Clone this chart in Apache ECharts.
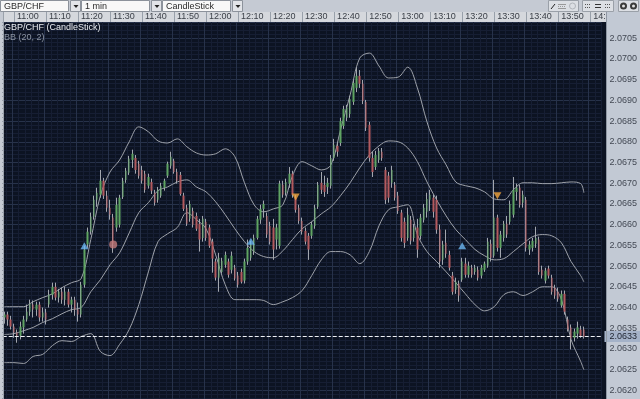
<!DOCTYPE html>
<html><head><meta charset="utf-8">
<script src="https://cdn.jsdelivr.net/npm/echarts@6/dist/echarts.min.js"></script>
<style>html,body{margin:0;padding:0;background:#c5cad3;}#chart{width:640px;height:399px;}</style>
</head><body><div id="chart"></div>
<script>
// ---------- data ----------
const symbolName = 'GBP/CHF';
const intervalName = '1 min';
const chartTypeName = 'CandleStick';
const indicatorName = 'BB (20, 2)';
const lastPrice = 2.0633;
const priceStep = 0.0005;          // label step of the price axis
const priceMin = 2.0617925;        // bottom edge of the plot
const priceMax = 2.07089;          // top edge of the plot

// one-minute categories from 10:57 (candles fill the first 182)
const firstMinute = 10 * 60 + 57;
const categoryCount = 187;
const categories = [];
for (let k = 0; k < categoryCount; k++) {
  const m = firstMinute + k;
  categories.push(String(Math.floor(m / 60)).padStart(2, '0') + ':' + String(m % 60).padStart(2, '0'));
}

const opens = [
2.06376,2.06383,2.06371,2.06354,2.06340,2.06332,2.06352,2.06371,2.06390,2.06407,
2.06395,2.06407,2.06376,2.06388,2.06407,2.06431,2.06450,2.06424,2.06438,2.06419,
2.06438,2.06407,2.06419,2.06395,2.06383,2.06455,2.06552,2.06583,2.06619,2.06660,
2.06672,2.06706,2.06670,2.06641,2.06617,2.06593,2.06600,2.06667,2.06708,2.06725,
2.06756,2.06761,2.06747,2.06732,2.06723,2.06694,2.06703,2.06677,2.06660,2.06670,
2.06689,2.06718,2.06742,2.06754,2.06727,2.06720,2.06670,2.06641,2.06614,2.06633,
2.06621,2.06602,2.06568,2.06607,2.06593,2.06559,2.06511,2.06472,2.06486,2.06503,
2.06511,2.06491,2.06496,2.06477,2.06486,2.06465,2.06511,2.06520,2.06535,2.06568,
2.06612,2.06638,2.06621,2.06597,2.06593,2.06564,2.06549,2.06696,2.06677,2.06699,
2.06723,2.06665,2.06641,2.06609,2.06585,2.06573,2.06573,2.06597,2.06643,2.06701,
2.06696,2.06691,2.06694,2.06761,2.06790,2.06797,2.06838,2.06858,2.06867,2.06896,
2.06930,2.06959,2.06940,2.06896,2.06841,2.06761,2.06739,2.06756,2.06776,2.06732,
2.06718,2.06701,2.06696,2.06670,2.06629,2.06607,2.06568,2.06612,2.06568,2.06593,
2.06573,2.06612,2.06631,2.06660,2.06665,2.06660,2.06588,2.06515,2.06556,2.06527,
2.06477,2.06443,2.06458,2.06467,2.06506,2.06479,2.06496,2.06486,2.06491,2.06477,
2.06491,2.06501,2.06554,2.06525,2.06617,2.06544,2.06568,2.06602,2.06607,2.06624,
2.06679,2.06689,2.06653,2.06660,2.06540,2.06544,2.06554,2.06564,2.06491,2.06465,
2.06494,2.06472,2.06448,2.06438,2.06405,2.06433,2.06371,2.06352,2.06327,2.06337,
2.06347,2.06347];
const closes = [
2.06383,2.06371,2.06354,2.06340,2.06332,2.06354,2.06371,2.06390,2.06409,2.06395,
2.06407,2.06376,2.06388,2.06371,2.06431,2.06450,2.06424,2.06438,2.06419,2.06438,
2.06407,2.06419,2.06395,2.06383,2.06455,2.06540,2.06583,2.06619,2.06660,2.06677,
2.06706,2.06670,2.06641,2.06624,2.06554,2.06648,2.06665,2.06706,2.06730,2.06759,
2.06771,2.06732,2.06718,2.06706,2.06684,2.06715,2.06682,2.06653,2.06684,2.06694,
2.06706,2.06747,2.06764,2.06727,2.06706,2.06674,2.06638,2.06602,2.06650,2.06600,
2.06590,2.06564,2.06614,2.06568,2.06549,2.06518,2.06472,2.06520,2.06513,2.06527,
2.06479,2.06525,2.06470,2.06455,2.06462,2.06511,2.06544,2.06554,2.06568,2.06614,
2.06638,2.06650,2.06576,2.06559,2.06540,2.06593,2.06699,2.06672,2.06703,2.06723,
2.06672,2.06636,2.06609,2.06583,2.06559,2.06540,2.06600,2.06641,2.06696,2.06684,
2.06679,2.06701,2.06761,2.06793,2.06776,2.06850,2.06879,2.06882,2.06903,2.06942,
2.06959,2.06940,2.06899,2.06834,2.06761,2.06727,2.06768,2.06778,2.06761,2.06660,
2.06665,2.06732,2.06665,2.06633,2.06568,2.06556,2.06624,2.06561,2.06593,2.06540,
2.06617,2.06641,2.06662,2.06672,2.06631,2.06588,2.06511,2.06552,2.06530,2.06496,
2.06438,2.06462,2.06429,2.06511,2.06479,2.06501,2.06479,2.06496,2.06472,2.06496,
2.06506,2.06559,2.06520,2.06617,2.06544,2.06576,2.06602,2.06576,2.06650,2.06684,
2.06689,2.06648,2.06672,2.06544,2.06552,2.06561,2.06568,2.06486,2.06477,2.06489,
2.06477,2.06438,2.06429,2.06421,2.06433,2.06390,2.06347,2.06325,2.06342,2.06352,
2.06332,2.06330];
const lows = [
2.06361,2.06356,2.06347,2.06327,2.06315,2.06323,2.06337,2.06366,2.06380,2.06376,
2.06380,2.06366,2.06366,2.06359,2.06400,2.06419,2.06417,2.06412,2.06409,2.06405,
2.06400,2.06388,2.06380,2.06366,2.06376,2.06448,2.06544,2.06576,2.06612,2.06643,
2.06665,2.06662,2.06631,2.06612,2.06532,2.06583,2.06593,2.06662,2.06701,2.06720,
2.06737,2.06723,2.06711,2.06699,2.06677,2.06687,2.06674,2.06646,2.06653,2.06665,
2.06682,2.06713,2.06735,2.06723,2.06699,2.06670,2.06633,2.06597,2.06607,2.06593,
2.06585,2.06535,2.06559,2.06561,2.06544,2.06484,2.06465,2.06438,2.06482,2.06496,
2.06472,2.06482,2.06465,2.06448,2.06458,2.06458,2.06503,2.06513,2.06527,2.06564,
2.06602,2.06617,2.06568,2.06552,2.06515,2.06540,2.06542,2.06665,2.06670,2.06689,
2.06665,2.06629,2.06602,2.06576,2.06552,2.06515,2.06566,2.06590,2.06638,2.06674,
2.06667,2.06674,2.06687,2.06754,2.06764,2.06790,2.06831,2.06850,2.06858,2.06889,
2.06920,2.06930,2.06891,2.06826,2.06752,2.06715,2.06732,2.06749,2.06754,2.06650,
2.06653,2.06689,2.06658,2.06626,2.06559,2.06544,2.06561,2.06552,2.06559,2.06520,
2.06564,2.06605,2.06617,2.06633,2.06617,2.06578,2.06496,2.06503,2.06520,2.06489,
2.06431,2.06433,2.06414,2.06462,2.06472,2.06472,2.06472,2.06479,2.06465,2.06470,
2.06486,2.06496,2.06511,2.06520,2.06535,2.06520,2.06559,2.06568,2.06600,2.06617,
2.06658,2.06641,2.06641,2.06535,2.06527,2.06535,2.06544,2.06479,2.06470,2.06458,
2.06470,2.06431,2.06421,2.06414,2.06400,2.06383,2.06342,2.06299,2.06318,2.06325,
2.06327,2.06325];
const highs = [
2.06390,2.06390,2.06380,2.06361,2.06347,2.06366,2.06380,2.06407,2.06419,2.06417,
2.06414,2.06414,2.06400,2.06397,2.06443,2.06460,2.06460,2.06445,2.06448,2.06450,
2.06445,2.06426,2.06426,2.06412,2.06462,2.06549,2.06593,2.06629,2.06670,2.06689,
2.06732,2.06713,2.06682,2.06660,2.06626,2.06665,2.06672,2.06713,2.06737,2.06766,
2.06781,2.06768,2.06754,2.06742,2.06730,2.06723,2.06711,2.06684,2.06691,2.06701,
2.06711,2.06752,2.06776,2.06759,2.06735,2.06727,2.06677,2.06648,2.06658,2.06641,
2.06629,2.06614,2.06621,2.06614,2.06600,2.06566,2.06518,2.06532,2.06520,2.06535,
2.06518,2.06535,2.06503,2.06486,2.06494,2.06518,2.06564,2.06561,2.06576,2.06621,
2.06648,2.06658,2.06629,2.06607,2.06614,2.06602,2.06706,2.06706,2.06711,2.06739,
2.06730,2.06672,2.06648,2.06617,2.06593,2.06580,2.06607,2.06648,2.06703,2.06727,
2.06718,2.06713,2.06768,2.06807,2.06800,2.06858,2.06887,2.06889,2.06911,2.06949,
2.06980,2.06973,2.06949,2.06901,2.06848,2.06776,2.06778,2.06785,2.06785,2.06739,
2.06727,2.06742,2.06703,2.06679,2.06636,2.06617,2.06641,2.06621,2.06602,2.06614,
2.06626,2.06650,2.06677,2.06684,2.06672,2.06670,2.06600,2.06561,2.06588,2.06537,
2.06486,2.06472,2.06465,2.06520,2.06520,2.06511,2.06503,2.06503,2.06499,2.06503,
2.06511,2.06568,2.06564,2.06708,2.06624,2.06585,2.06609,2.06621,2.06658,2.06715,
2.06699,2.06696,2.06682,2.06667,2.06561,2.06568,2.06595,2.06571,2.06501,2.06496,
2.06501,2.06479,2.06455,2.06448,2.06441,2.06441,2.06378,2.06359,2.06349,2.06366,
2.06356,2.06354];

// Bollinger band readings
const bandTimes = ['10:57','11:00','11:03','11:06','11:09','11:12','11:15','11:18','11:21','11:24',
'11:27','11:30','11:33','11:36','11:39','11:42','11:45','11:48','11:51','11:54',
'11:57','12:00','12:03','12:06','12:09','12:12','12:15','12:18','12:21','12:24',
'12:27','12:30','12:33','12:36','12:39','12:42','12:45','12:48','12:51','12:54',
'12:57','13:00','13:03','13:06','13:09','13:12','13:15','13:18','13:21','13:24',
'13:27','13:30','13:33','13:36','13:39','13:42','13:45','13:48','13:51','13:54',
'13:57','13:58'];
const bbUpper = [2.06402,2.06402,2.06402,2.06414,2.06424,2.06433,2.06448,2.06460,2.06470,2.06564,
2.06670,2.06727,2.06756,2.06800,2.06836,2.06824,2.06802,2.06797,2.06807,2.06788,
2.06773,2.06768,2.06771,2.06783,2.06764,2.06701,2.06648,2.06631,2.06638,2.06648,
2.06718,2.06752,2.06742,2.06732,2.06744,2.06829,2.06913,2.07002,2.07014,2.06983,
2.06954,2.06956,2.06980,2.06930,2.06848,2.06785,2.06744,2.06703,2.06694,2.06689,
2.06679,2.06662,2.06660,2.06684,2.06701,2.06701,2.06699,2.06699,2.06701,2.06703,
2.06699,2.06677];
const bbMiddle = [2.06335,2.06337,2.06344,2.06352,2.06364,2.06373,2.06385,2.06395,2.06400,2.06438,
2.06467,2.06503,2.06532,2.06580,2.06629,2.06653,2.06682,2.06691,2.06703,2.06708,
2.06691,2.06679,2.06655,2.06624,2.06590,2.06559,2.06535,2.06523,2.06520,2.06537,
2.06564,2.06590,2.06607,2.06626,2.06643,2.06670,2.06701,2.06737,2.06768,2.06790,
2.06802,2.06800,2.06785,2.06752,2.06703,2.06660,2.06621,2.06588,2.06564,2.06540,
2.06525,2.06515,2.06518,2.06535,2.06554,2.06571,2.06576,2.06573,2.06556,2.06511,
2.06477,2.06462];
const bbLower = [2.06267,2.06267,2.06265,2.06282,2.06287,2.06308,2.06320,2.06318,2.06330,2.06337,
2.06294,2.06284,2.06311,2.06347,2.06407,2.06486,2.06559,2.06578,2.06593,2.06629,
2.06612,2.06590,2.06527,2.06455,2.06419,2.06419,2.06419,2.06417,2.06407,2.06414,
2.06424,2.06441,2.06477,2.06515,2.06535,2.06535,2.06527,2.06506,2.06535,2.06597,
2.06636,2.06643,2.06648,2.06576,2.06535,2.06511,2.06486,2.06460,2.06433,2.06407,
2.06392,2.06402,2.06431,2.06438,2.06429,2.06438,2.06450,2.06450,2.06419,2.06323,
2.06270,2.06250];

// signal markers
const buyTimes = ['11:22','12:14','13:20'];
const buyPrices = [2.06549, 2.06560, 2.06549];
const sellTimes = ['12:28','13:31'];
const sellPrices = [2.06667, 2.06670];
const exitTimes = ['11:31'];
const exitPrices = [2.06552];

// ---------- chart ----------
const chart = echarts.init(document.getElementById('chart'), null, {renderer: 'canvas', width: 640, height: 399});
const isMajor = i => categories[i].endsWith('0');
const ci = t => categories.indexOf(t);
const wickData = opens.map((o, i) => [o, closes[i], lows[i], highs[i]]);
const bodyData = opens.map((o, i) => [o, closes[i], Math.min(o, closes[i]), Math.max(o, closes[i])]);
const pairs = (times, vals) => times.map((t, k) => [ci(t), vals[k]]);
const FONT = '"Liberation Sans", Arial, sans-serif';

function dropdown(x, w, label) {
  return [
    {type: 'rect', shape: {x: x + 0.5, y: 0.5, width: w, height: 11}, style: {fill: '#f8f8f8', stroke: '#8c929b', lineWidth: 1}, z: 5},
    {type: 'text', x: x + 4, y: 6.5, style: {text: label, fill: '#2a2a2a', font: '9px ' + FONT, textVerticalAlign: 'middle'}, z: 6},
    {type: 'rect', shape: {x: x + w + 2.5, y: 0.5, width: 10, height: 11}, style: {fill: '#e2e4e8', stroke: '#8c929b', lineWidth: 1}, z: 5},
    {type: 'polygon', shape: {points: [[x + w + 5.5, 5], [x + w + 10.5, 5], [x + w + 8, 8]]}, style: {fill: '#222'}, z: 6}
  ];
}

const graphics = [
  {type: 'rect', shape: {x: 3, y: 12, width: 604, height: 10}, style: {fill: '#d5d8dd'}, z: -10},
  {type: 'rect', shape: {x: 3, y: 22, width: 604, height: 377}, style: {fill: '#0c1322'}, z: -10},
  {type: 'rect', shape: {x: 607, y: 12, width: 33, height: 387}, style: {fill: '#c2c9d4'}, z: -10},
  {type: 'rect', shape: {x: 607, y: 12, width: 33, height: 10}, style: {fill: '#c2c9d4'}, z: 50},
  {type: 'line', shape: {x1: 3.5, y1: 12, x2: 3.5, y2: 399}, style: {stroke: '#9aa1ab', lineWidth: 1}, z: 50},
  {type: 'line', shape: {x1: 606.5, y1: 12, x2: 606.5, y2: 399}, style: {stroke: '#8f97a3', lineWidth: 1}, z: 50},
  {type: 'text', x: 4, y: 28, style: {text: symbolName + ' (' + chartTypeName + ')', fill: '#e9ecf1', font: '9px ' + FONT, textVerticalAlign: 'middle'}, z: 10},
  {type: 'text', x: 4, y: 38, style: {text: indicatorName, fill: '#8c94a2', font: '9px ' + FONT, textVerticalAlign: 'middle'}, z: 10},
  // toolbar icon groups (right)
  {type: 'rect', shape: {x: 548.5, y: 0.5, width: 30, height: 11}, style: {fill: '#dcdfe4', stroke: '#9aa0a8'}, z: 5},
  {type: 'line', shape: {x1: 551, y1: 9, x2: 555, y2: 4}, style: {stroke: '#222', lineWidth: 1}, z: 6},
  {type: 'line', shape: {x1: 558, y1: 4.5, x2: 566, y2: 4.5}, style: {stroke: '#999', lineWidth: 1}, z: 6},
  {type: 'line', shape: {x1: 558, y1: 6.5, x2: 566, y2: 6.5}, style: {stroke: '#999', lineWidth: 1, lineDash: [1, 1]}, z: 6},
  {type: 'line', shape: {x1: 558, y1: 8.5, x2: 566, y2: 8.5}, style: {stroke: '#999', lineWidth: 1}, z: 6},
  {type: 'circle', shape: {cx: 572.5, cy: 6, r: 3}, style: {fill: 'none', stroke: '#b0b4ba', lineWidth: 1}, z: 6},
  {type: 'rect', shape: {x: 582.5, y: 0.5, width: 31, height: 11}, style: {fill: '#dcdfe4', stroke: '#9aa0a8'}, z: 5},
  {type: 'line', shape: {x1: 585, y1: 4.5, x2: 591, y2: 4.5}, style: {stroke: '#555', lineWidth: 1, lineDash: [1, 1]}, z: 6},
  {type: 'line', shape: {x1: 585, y1: 7.5, x2: 591, y2: 7.5}, style: {stroke: '#555', lineWidth: 1, lineDash: [1, 1]}, z: 6},
  {type: 'line', shape: {x1: 595, y1: 4.5, x2: 601, y2: 4.5}, style: {stroke: '#333', lineWidth: 1}, z: 6},
  {type: 'line', shape: {x1: 595, y1: 7.5, x2: 601, y2: 7.5}, style: {stroke: '#333', lineWidth: 1}, z: 6},
  {type: 'line', shape: {x1: 605, y1: 4.5, x2: 611, y2: 4.5}, style: {stroke: '#555', lineWidth: 1, lineDash: [1, 1]}, z: 6},
  {type: 'line', shape: {x1: 605, y1: 7.5, x2: 611, y2: 7.5}, style: {stroke: '#555', lineWidth: 1, lineDash: [1, 1]}, z: 6},
  {type: 'rect', shape: {x: 618.5, y: 0.5, width: 20, height: 11}, style: {fill: '#dcdfe4', stroke: '#9aa0a8'}, z: 5},
  {type: 'circle', shape: {cx: 623.5, cy: 6, r: 3.5}, style: {fill: '#3a3a3a'}, z: 6},
  {type: 'circle', shape: {cx: 623.5, cy: 6, r: 1.5}, style: {fill: '#e0e0e0'}, z: 7},
  {type: 'circle', shape: {cx: 633.5, cy: 6, r: 3.5}, style: {fill: '#3a3a3a'}, z: 6},
  {type: 'circle', shape: {cx: 633.5, cy: 6, r: 1.5}, style: {fill: '#e0e0e0'}, z: 7}
].concat(dropdown(0, 68, symbolName), dropdown(81, 68, intervalName), dropdown(162, 68, chartTypeName));

const bandLine = (name, vals, extra) => Object.assign({
  name, type: 'line', xAxisIndex: 0, data: pairs(bandTimes, vals), symbol: 'none', smooth: 0.35,
  lineStyle: {color: '#9ea2aa', width: 1}, silent: true, z: 3
}, extra || {});

chart.setOption({
  backgroundColor: '#c5cad3',
  animation: false,
  textStyle: {fontFamily: FONT},
  graphic: graphics,
  grid: {left: 2.74, top: 22, width: 601.5, bottom: 0},
  xAxis: [{
    type: 'category', data: categories, position: 'top', boundaryGap: true,
    axisLine: {show: false},
    axisTick: {show: true, alignWithLabel: true, interval: i => isMajor(i), length: 10, lineStyle: {color: '#98a0aa'}},
    axisLabel: {interval: i => isMajor(i), color: '#3c4149', fontSize: 9, align: 'left', padding: [0, 0, 0, 3], margin: 1},
    splitLine: {show: true, interval: i => isMajor(i), lineStyle: {color: '#27324a', width: 1}}
  }, {
    type: 'category', data: categories, position: 'top', boundaryGap: true,
    axisLine: {show: false}, axisTick: {show: false}, axisLabel: {show: false},
    splitLine: {show: true, interval: i => (i % 2 === 1 && !isMajor(i)), lineStyle: {color: '#161e33', width: 1}}
  }],
  yAxis: {
    type: 'value', position: 'right', min: priceMin, max: priceMax,
    splitNumber: 18, minInterval: priceStep, maxInterval: priceStep,
    axisLine: {show: false}, axisTick: {show: false},
    axisLabel: {color: '#434954', fontSize: 9, margin: 8, formatter: v => v.toFixed(4), showMaxLabel: false, showMinLabel: false},
    splitLine: {show: true, lineStyle: {color: '#27324a', width: 1}},
    minorTick: {show: false, splitNumber: 5},
    minorSplitLine: {show: true, lineStyle: {color: '#161e33', width: 1}}
  },
  series: [
    bandLine('BB upper', bbUpper),
    bandLine('BB middle', bbMiddle, {
      markLine: {
        silent: true, symbol: ['none', 'none'], animation: false, precision: 4,
        data: [{yAxis: lastPrice}],
        lineStyle: {color: '#eef0f4', type: 'dashed', width: 1},
        label: {show: true, position: 'end', distance: 3,
          backgroundColor: '#a4b2c8', color: '#1d232e', fontSize: 9, padding: [1, 5, 1, 5]}
      }
    }),
    bandLine('BB lower', bbLower),
    {
      name: 'wicks', type: 'candlestick', xAxisIndex: 0, data: wickData, barWidth: 1, silent: true, z: 4,
      itemStyle: {color: '#a3a7af', color0: '#a3a7af', borderColor: '#a3a7af', borderColor0: '#a3a7af', borderWidth: 1}
    },
    {
      name: symbolName, type: 'candlestick', xAxisIndex: 0, data: bodyData, barWidth: 2, silent: true, z: 5,
      itemStyle: {color: '#5fa462', color0: '#b35a5e', borderColor: '#5fa462', borderColor0: '#b35a5e', borderWidth: 0}
    },
    {name: 'buy', type: 'scatter', xAxisIndex: 0, data: pairs(buyTimes, buyPrices), symbol: 'triangle', symbolSize: [8, 7],
      itemStyle: {color: '#6db8f2'}, silent: true, z: 6},
    {name: 'sell', type: 'scatter', xAxisIndex: 0, data: pairs(sellTimes, sellPrices), symbol: 'triangle', symbolRotate: 180, symbolSize: [8, 7],
      itemStyle: {color: '#f2a640'}, silent: true, z: 6},
    {name: 'exit', type: 'scatter', xAxisIndex: 0, data: pairs(exitTimes, exitPrices), symbol: 'circle', symbolSize: 8,
      itemStyle: {color: '#c47c7c'}, silent: true, z: 6}
  ]
});
</script></body></html>
